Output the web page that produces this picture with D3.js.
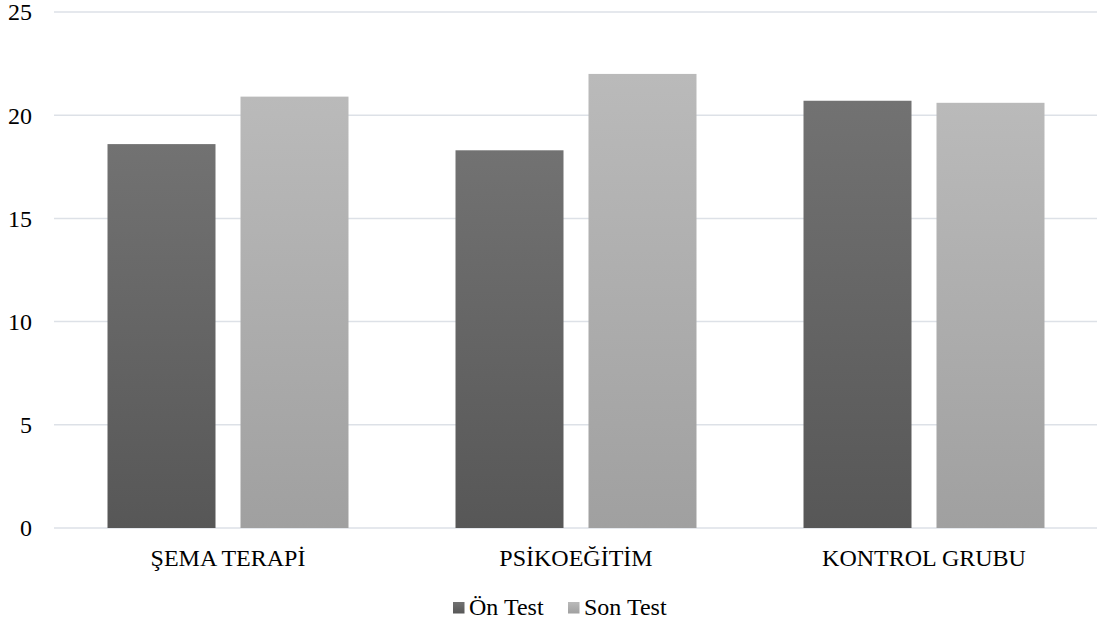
<!DOCTYPE html>
<html><head><meta charset="utf-8">
<script src="https://cdn.jsdelivr.net/npm/d3@7"></script>
<style>body{margin:0;background:#fff}svg{display:block}</style>
</head><body>
<script>
const categories = ["ŞEMA TERAPİ", "PSİKOEĞİTİM", "KONTROL GRUBU"];
const seriesNames = ["Ön Test", "Son Test"];
const onTest = [18.6, 18.3, 20.7];
const sonTest = [20.9, 22.0, 20.6];
const yTicks = [0, 5, 10, 15, 20, 25];

const W = 1097, H = 628;
const svg = d3.select("body").append("svg").attr("width", W).attr("height", H);
const font = "'Liberation Serif','Times New Roman',serif";
const fs = 24;

const defs = svg.append("defs");
const grads = [["gDark", "#727272", "#575757"], ["gLight", "#bababa", "#a0a0a0"]];
grads.forEach(([id, c1, c2]) => {
  const g = defs.append("linearGradient").attr("id", id).attr("x1", 0).attr("y1", 0).attr("x2", 0).attr("y2", 1);
  g.append("stop").attr("offset", "0%").attr("stop-color", c1);
  g.append("stop").attr("offset", "100%").attr("stop-color", c2);
});
const fills = ["url(#gDark)", "url(#gLight)"];

const y = d3.scaleLinear().domain([0, 25]).range([528, 12]);
const x0 = d3.scaleBand().domain(categories).range([54, 1098]).paddingInner(0.3075).paddingOuter(0.15375);
const x1 = d3.scaleBand().domain(seriesNames).range([0, x0.bandwidth()]).paddingInner(0.188).paddingOuter(0);

// gridlines
svg.append("g").selectAll("line").data(yTicks).join("line")
  .attr("x1", 54).attr("x2", 1097)
  .attr("y1", d => y(d)).attr("y2", d => y(d))
  .attr("stroke", "#dde1e7").attr("stroke-width", 1.5);

// y tick labels
svg.append("g").selectAll("text").data(yTicks).join("text")
  .attr("x", 32).attr("y", d => y(d)).attr("dy", "0.35em")
  .attr("text-anchor", "end").attr("font-family", font).attr("font-size", fs).attr("fill", "#000")
  .text(d => d);

// bars
const data = categories.map((c, i) => ({ cat: c, vals: [onTest[i], sonTest[i]] }));
const groups = svg.append("g").selectAll("g").data(data).join("g")
  .attr("transform", d => `translate(${x0(d.cat)},0)`);
groups.selectAll("rect").data(d => d.vals.map((v, j) => ({ s: seriesNames[j], v, j })))
  .join("rect")
  .attr("x", d => x1(d.s)).attr("width", x1.bandwidth())
  .attr("y", d => y(d.v)).attr("height", d => y(0) - y(d.v))
  .attr("fill", d => fills[d.j]);

// category labels
svg.append("g").selectAll("text").data(categories).join("text")
  .attr("x", d => x0(d) + x0.bandwidth() / 2).attr("y", 566)
  .attr("text-anchor", "middle").attr("font-family", font).attr("font-size", fs).attr("fill", "#000")
  .text(d => d);

// legend
const legendX = [453, 568];
const lg = svg.append("g").selectAll("g").data(seriesNames).join("g")
  .attr("transform", (d, i) => `translate(${legendX[i]},0)`);
lg.append("rect").attr("x", 0).attr("y", 602).attr("width", 11.5).attr("height", 11.5)
  .attr("fill", (d, i) => fills[i]);
lg.append("text").attr("x", 16).attr("y", 615)
  .attr("font-family", font).attr("font-size", fs).attr("fill", "#000").text(d => d);
</script>
</body></html>
